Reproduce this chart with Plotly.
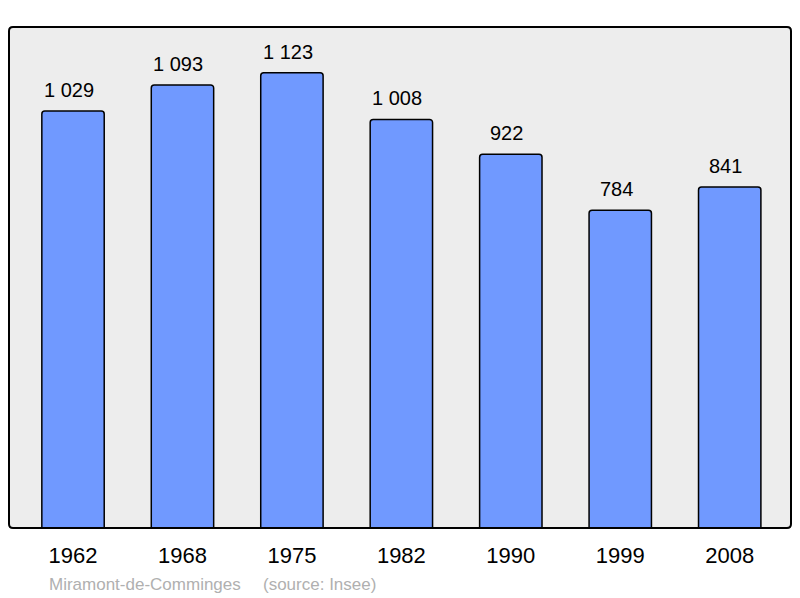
import plotly.graph_objects as go

years = ["1962", "1968", "1975", "1982", "1990", "1999", "2008"]
population = [1029, 1093, 1123, 1008, 922, 784, 841]
labels = ["1 029", "1 093", "1 123", "1 008", "922", "784", "841"]

FONT = "Liberation Sans, Arial, sans-serif"

fig = go.Figure()
fig.add_trace(go.Bar(
    x=list(range(len(years))), y=population,
    width=0.57,
    marker=dict(color="#7099ff", line=dict(color="#000000", width=1.5), cornerradius=3),
    hoverinfo="skip",
))

for i, (v, t) in enumerate(zip(population, labels)):
    fig.add_annotation(x=i, y=v, text=t, showarrow=False, yanchor="bottom",
                       yshift=8, xshift=-4, font=dict(size=20, color="#000000", family=FONT))

fig.add_annotation(xref="paper", yref="paper", x=(47 - 9) / 782, y=-0.089, xanchor="left", yanchor="top",
                   text="Miramont-de-Comminges", showarrow=False,
                   font=dict(size=17, color="#b0b0b0", family=FONT))
fig.add_annotation(xref="paper", yref="paper", x=(261 - 9) / 782, y=-0.089, xanchor="left", yanchor="top",
                   text="(source: Insee)", showarrow=False,
                   font=dict(size=17, color="#b0b0b0", family=FONT))

# rounded plot frame
W, H = 782.0, 501.0
rx, ry = 4 / W, 4 / H
path = (f"M {rx},0 L {1-rx},0 Q 1,0 1,{ry} L 1,{1-ry} Q 1,1 {1-rx},1 "
        f"L {rx},1 Q 0,1 0,{1-ry} L 0,{ry} Q 0,0 {rx},0 Z")
fig.add_shape(type="path", xref="paper", yref="paper", path=path,
              fillcolor="#ededed", line=dict(width=0), layer="below")
fig.add_shape(type="path", xref="paper", yref="paper", path=path,
              line=dict(color="#000000", width=2), layer="above")

fig.update_layout(
    width=792, height=590,
    margin=dict(l=1, r=9, t=19, b=70),
    paper_bgcolor="#ffffff", plot_bgcolor="rgba(0,0,0,0)",
    showlegend=False,
    xaxis=dict(range=[-0.585, 6.56], showgrid=False, zeroline=False, ticks="",
               tickmode="array", tickvals=list(range(len(years))), ticktext=years,
               tickfont=dict(size=22, color="#000000", family=FONT),
               ticklabelstandoff=12, fixedrange=True),
    yaxis=dict(range=[0, 1236], showgrid=False, zeroline=False, showticklabels=False,
               fixedrange=True),
)

fig.write_html("out.html")
